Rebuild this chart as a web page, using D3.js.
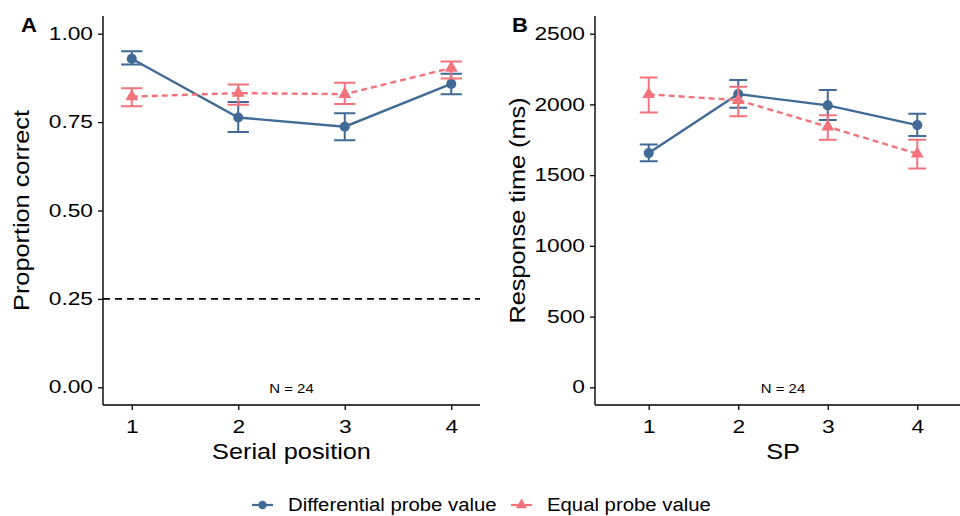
<!DOCTYPE html>
<html>
<head>
<meta charset="utf-8">
<script src="https://cdn.jsdelivr.net/npm/d3@7"></script>
<style>
  body { margin: 0; background: #fff; }
  text { font-family: "Liberation Sans", Arial, sans-serif; fill: #000; }
</style>
</head>
<body>
<div id="chart"></div>
<script>
// Data
var positions = [1, 2, 3, 4];
var seriesNames = ["Differential probe value", "Equal probe value"];
var seriesColors = ["#426a96", "#f2737b"];

// Panel A: proportion correct
var accDiff   = [0.929, 0.763, 0.737, 0.858];
var accDiffLo = [0.913, 0.722, 0.699, 0.829];
var accDiffHi = [0.950, 0.807, 0.775, 0.887];
var accEq     = [0.822, 0.832, 0.829, 0.903];
var accEqLo   = [0.795, 0.799, 0.801, 0.873];
var accEqHi   = [0.846, 0.856, 0.861, 0.921];
var accTicks  = [0, 0.25, 0.5, 0.75, 1];
var chance = 0.25;

// Panel B: response time (ms)
var rtDiff   = [1656, 2073, 1993, 1854];
var rtDiffLo = [1599, 1976, 1889, 1776];
var rtDiffHi = [1717, 2172, 2101, 1934];
var rtEq     = [2071, 2030, 1842, 1651];
var rtEqLo   = [1943, 1917, 1750, 1547];
var rtEqHi   = [2191, 2125, 1924, 1750];
var rtTicks  = [0, 500, 1000, 1500, 2000, 2500];

var nLabel = "N = 24";

var W = 960, H = 516;
var svg = d3.select("#chart").append("svg")
    .attr("width", W).attr("height", H);

// text in the figure is a little wider than Liberation Sans
function label(parent, x, y, txt, size, sx, opts) {
  opts = opts || {};
  var g = parent.append("g")
      .attr("transform", "translate(" + x + "," + y + ")" + (opts.rotate ? " rotate(" + opts.rotate + ")" : "") + " scale(" + sx + ",1)");
  return g.append("text")
      .attr("text-anchor", opts.anchor || "middle")
      .attr("font-size", size)
      .attr("font-weight", opts.bold ? "bold" : null)
      .text(txt);
}

var TICK_SX = 1.3, TITLE_SX = 1.15;

function panel(cfg) {
  var x = d3.scaleLinear().domain(cfg.xDomain).range(cfg.xRange);
  var y = d3.scaleLinear().domain(cfg.yDomain).range([405, 16]);
  var g = svg.append("g");

  // axes
  var yAxis = d3.axisLeft(y).tickValues(cfg.yTicks).tickSize(5).tickPadding(5)
      .tickFormat(cfg.yFormat);
  var gy = g.append("g").attr("transform", "translate(" + cfg.xRange[0] + ",0)").call(yAxis);
  var xAxis = d3.axisBottom(x).tickValues(positions).tickSize(5).tickPadding(11)
      .tickFormat(d3.format("d"));
  var gx = g.append("g").attr("transform", "translate(0,405)").call(xAxis);
  [gy, gx].forEach(function(a) {
    a.select(".domain").remove();
    a.selectAll(".tick line").attr("stroke", "#000").attr("stroke-width", 1.3);
    a.selectAll(".tick text").attr("font-size", 17.5).attr("fill", "#000")
      .attr("font-family", "Liberation Sans, Arial, sans-serif");
  });
  gy.selectAll(".tick text").attr("x", -10 / TICK_SX).attr("transform", "scale(" + TICK_SX + ",1)");
  gx.selectAll(".tick text").attr("transform", "scale(" + TICK_SX + ",1)");

  g.append("line").attr("x1", cfg.xRange[0]).attr("x2", cfg.xRange[0])
    .attr("y1", 16).attr("y2", 405).attr("stroke", "#000").attr("stroke-width", 1.4);
  g.append("line").attr("x1", cfg.xRange[0]).attr("x2", cfg.xRange[1])
    .attr("y1", 405).attr("y2", 405).attr("stroke", "#000").attr("stroke-width", 1.4);

  if (cfg.hline != null) {
    g.append("line").attr("x1", cfg.xRange[0]).attr("x2", cfg.xRange[1])
      .attr("y1", y(cfg.hline)).attr("y2", y(cfg.hline))
      .attr("stroke", "#000").attr("stroke-width", 1.6).attr("stroke-dasharray", "7,5");
  }

  var cx = (cfg.xRange[0] + cfg.xRange[1]) / 2;
  label(g, cx, 392.5, nLabel, 13, 1.15);
  label(g, cx, 459, cfg.xTitle, 22, TITLE_SX);
  label(g, cfg.yTitleX, (16 + 405) / 2, cfg.yTitle, 22, TITLE_SX, {rotate: -90});
  label(g, cfg.tagX, 31.5, cfg.tag, 21, 1.05, {anchor: "start", bold: true});

  var line = d3.line().x(function(d) { return x(d.p); }).y(function(d) { return y(d.m); });

  cfg.series.forEach(function(s, i) {
    var pts = positions.map(function(p, k) { return {p: p, m: s.m[k], lo: s.lo[k], hi: s.hi[k]}; });
    var col = seriesColors[i];
    var sg = g.append("g");
    var halfCap = (x(1.1) - x(1));
    sg.selectAll(".eb").data(pts).enter().append("path")
      .attr("fill", "none").attr("stroke", col).attr("stroke-width", 2)
      .attr("d", function(d) {
        var px = x(d.p);
        return "M" + (px - halfCap) + "," + y(d.hi) + "H" + (px + halfCap) +
               "M" + px + "," + y(d.hi) + "V" + y(d.lo) +
               "M" + (px - halfCap) + "," + y(d.lo) + "H" + (px + halfCap);
      });
    sg.append("path").datum(pts)
      .attr("fill", "none").attr("stroke", col).attr("stroke-width", 2.4)
      .attr("stroke-dasharray", i === 1 ? "6,4" : null)
      .attr("d", line);
    sg.selectAll(".pt").data(pts).enter().append("path")
      .attr("fill", col)
      .attr("transform", function(d) { return "translate(" + x(d.p) + "," + y(d.m) + ")"; })
      .attr("d", d3.symbol().type(i === 0 ? d3.symbolCircle : d3.symbolTriangle).size(i === 0 ? 80 : 72));
  });
}

panel({
  xDomain: [0.73, 4.27], xRange: [103, 480],
  yDomain: [-0.05, 1.05], yTicks: accTicks, yFormat: d3.format(".2f"),
  xTitle: "Serial position", yTitle: "Proportion correct", yTitleX: 29, tag: "A", tagX: 21,
  hline: chance,
  series: [{m: accDiff, lo: accDiffLo, hi: accDiffHi}, {m: accEq, lo: accEqLo, hi: accEqHi}]
});

panel({
  xDomain: [0.4, 4.6], xRange: [595, 971],
  yDomain: [-125, 2625], yTicks: rtTicks, yFormat: d3.format("d"),
  xTitle: "SP", yTitle: "Response time (ms)", yTitleX: 525, tag: "B", tagX: 512,
  hline: null,
  series: [{m: rtDiff, lo: rtDiffLo, hi: rtDiffHi}, {m: rtEq, lo: rtEqLo, hi: rtEqHi}]
});

// legend
var legendX = [252, 511];
var lg = svg.append("g");
seriesNames.forEach(function(name, i) {
  var x0 = legendX[i];
  lg.append("line").attr("x1", x0).attr("x2", x0 + 21).attr("y1", 505).attr("y2", 505)
    .attr("stroke", seriesColors[i]).attr("stroke-width", 2.2);
  lg.append("path").attr("fill", seriesColors[i])
    .attr("transform", "translate(" + (x0 + 10.5) + ",505)")
    .attr("d", d3.symbol().type(i === 0 ? d3.symbolCircle : d3.symbolTriangle).size(55));
  label(lg, x0 + 36, 511, name, 18, 1.13, {anchor: "start"});
});
</script>
</body>
</html>
